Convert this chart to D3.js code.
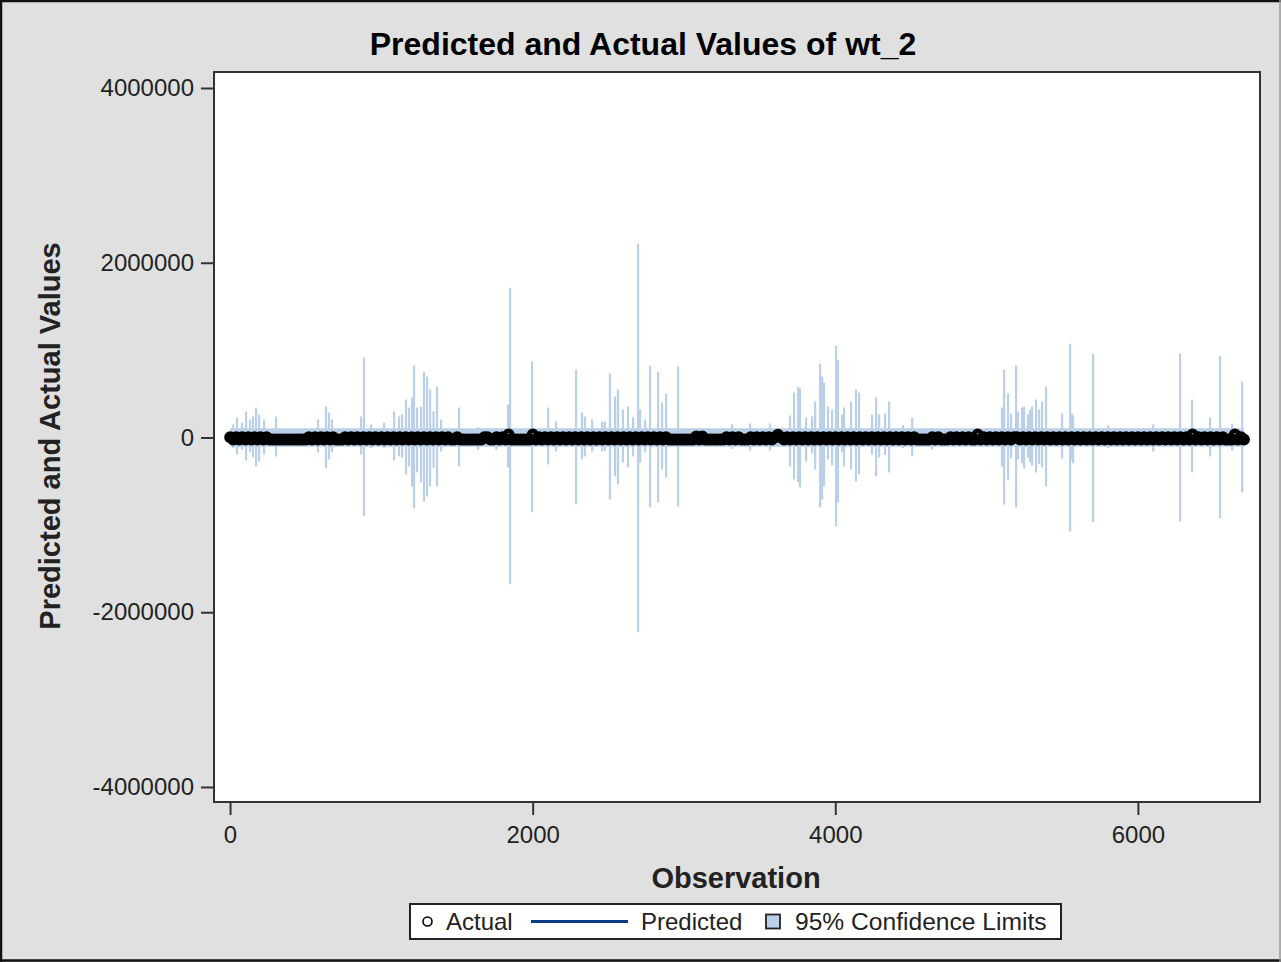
<!DOCTYPE html>
<html><head><meta charset="utf-8">
<script src="https://cdn.jsdelivr.net/npm/d3@7"></script>
<style>
body{margin:0;background:#fff}
svg{display:block}
text{font-family:"Liberation Sans", Arial, sans-serif}
</style>
</head><body>
<svg id="c" width="1281" height="962"></svg>
<script>
// ---------------- data ----------------
const title = "Predicted and Actual Values of wt_2";
const xLabel = "Observation";
const yLabel = "Predicted and Actual Values";
const xTicks = [0, 2000, 4000, 6000];
const yTicks = [-4000000, -2000000, 0, 2000000, 4000000];
const legendLabels = ["Actual", "Predicted", "95% Confidence Limits"];

// actual values (thousands), sampled every 20 observations starting at obs 1 (336 values, rows of 20)
const actualStep = 20, actualFirst = 1;
const actualK = [
  2,-22,2,-22,2,-22,2,-22,2,-22,2,-22,2,-22,-22,-22,-22,-22,-22,-22,
  -22,-22,-22,-22,-22,-22,2,-22,2,-22,2,-22,2,-22,2,-22,-22,-22,2,-22,
  2,-22,2,-22,2,-22,2,-22,2,-22,2,-22,2,-22,2,-22,2,-22,2,-22,
  2,-22,2,-22,2,-22,2,-22,2,-22,2,-22,2,-22,-22,2,-22,-22,-22,-22,
  -22,-22,-22,-22,2,2,-22,-22,2,-22,2,-22,34,-22,-22,-22,-22,-22,-22,-22,
  34,-22,2,-22,2,-22,2,-22,2,-22,2,-22,2,-22,2,-22,2,-22,2,-22,
  2,-22,2,-22,2,-22,2,-22,2,-22,2,-22,2,-22,2,-22,2,-22,2,-22,
  2,-22,2,-22,2,-22,-22,-22,-22,-22,-22,-22,-22,-22,10,-22,10,-22,-22,-22,
  -22,-22,-22,-22,2,-22,2,-22,2,-22,-22,-22,2,-22,2,-22,2,-22,2,-22,
  2,30,2,-22,2,-22,2,-22,2,-22,2,-22,2,-22,2,-22,2,-22,2,-22,
  2,-22,2,-22,2,-22,2,-22,2,-22,2,-22,2,-22,2,-22,2,-22,2,-22,
  2,-22,2,-22,2,-22,2,-22,-22,-22,-22,-22,2,-22,2,-22,-22,-22,2,-22,
  2,-22,2,-22,2,-22,-22,35,-22,2,-22,2,-22,2,-22,2,-22,2,-22,2,
  2,-22,2,-22,2,-22,2,-22,2,-22,2,-22,2,-22,2,-22,2,-22,2,-22,
  2,-22,2,-22,2,-22,2,-22,2,-22,2,-22,2,-22,2,-22,2,-22,2,-22,
  2,-22,2,-22,2,-22,2,-22,2,-22,2,-22,2,-22,2,-22,2,-22,34,-22,
  2,-22,2,-22,2,-22,2,-22,2,-22,-22,-22,34,-22,2,-22
];

// predicted values
const predObs = [1, 1000, 2000, 3000, 4000, 5000, 6000, 6701];
const predicted = [-12000, -12000, -10000, -11000, -10000, -11000, -11000, -12000];

// 95% confidence limits: narrow base band plus spikes
const clBaseObs = [1, 6701];
const clBaseUpper = [105000, 105000];
const clBaseLower = [-105000, -105000];
const spikeObs = [20,46,80,106,132,152,172,192,225,304,582,634,654,674,866,885,932,1018,1084,1117,1137,1163,1183,1203,1216,1236,1262,1282,1302,1322,1345,1368,1395,1514,1640,1760,
  1837,1851,1996,2102,2155,2287,2326,2346,2393,2460,2478,2511,2545,2564,2597,2630,2664,2697,2710,2743,2776,2829,2855,2882,2961,3318,
  3437,3569,3701,3728,3754,3767,3807,3847,3867,3900,3913,3926,3952,3979,4005,4018,4045,4058,4104,4137,4157,4243,4270,4290,4329,4356,4448,4508,4640,
  5102,5116,5142,5162,5195,5208,5235,5248,5274,5287,5301,5327,5347,5367,5393,5499,5552,5565,5572,5704,5803,6101,6279,6358,6477,6543,6623,6689];
const spikeUpper = [150000,228000,170000,297000,206000,240000,343000,263000,206000,240000,206000,354000,286000,206000,240000,914000,149000,171000,297000,240000,263000,434000,343000,457000,823000,343000,354000,754000,697000,549000,300000,583000,206000,343000,120000,110000,
  377000,1714000,869000,343000,183000,777000,286000,240000,206000,180000,183000,731000,469000,549000,320000,354000,229000,2217000,320000,206000,823000,754000,400000,503000,811000,150000,
  160000,160000,251000,514000,583000,560000,229000,240000,411000,846000,697000,629000,354000,320000,1051000,891000,263000,343000,411000,549000,514000,263000,457000,263000,274000,411000,140000,229000,100000,
  343000,777000,503000,274000,823000,297000,343000,354000,263000,320000,354000,434000,320000,411000,583000,274000,1074000,274000,240000,960000,140000,150000,960000,434000,229000,937000,160000,640000];
const spikeLower = [-120000,-194000,-140000,-263000,-171000,-229000,-331000,-274000,-194000,-217000,-171000,-354000,-251000,-171000,-194000,-903000,-120000,-120000,-263000,-217000,-229000,-423000,-331000,-560000,-811000,-400000,-514000,-731000,-674000,-560000,-350000,-560000,-160000,-331000,-140000,-140000,
  -343000,-1680000,-857000,-309000,-160000,-766000,-251000,-217000,-160000,-160000,-150000,-709000,-446000,-537000,-286000,-343000,-217000,-2229000,-286000,-171000,-800000,-743000,-366000,-457000,-789000,-130000,
  -150000,-150000,-331000,-480000,-514000,-571000,-274000,-183000,-366000,-800000,-709000,-560000,-251000,-320000,-1017000,-743000,-171000,-331000,-366000,-503000,-423000,-197000,-446000,-229000,-200000,-400000,-120000,-217000,-140000,
  -331000,-766000,-491000,-240000,-800000,-251000,-297000,-354000,-229000,-286000,-320000,-400000,-300000,-343000,-560000,-240000,-1074000,-260000,-297000,-971000,-120000,-160000,-960000,-400000,-217000,-926000,-150000,-629000];

// ---------------- drawing ----------------
const W = 1281, H = 962;
const plot = {left: 214, right: 1260, top: 72, bottom: 802};
const bandColor = "#bacfe8";
const predColor = "#0c3b85";
const ink = "#222";

const svg = d3.select("#c");
svg.append("rect").attr("x",0).attr("y",0).attr("width",W).attr("height",H).attr("fill","#e0e0e0");
// outer frame
svg.append("line").attr("x1",0).attr("x2",W).attr("y1",1).attr("y2",1).attr("stroke","#111").attr("stroke-width",2.5);
svg.append("line").attr("x1",1).attr("x2",1).attr("y1",0).attr("y2",H).attr("stroke","#111").attr("stroke-width",2.5);
svg.append("line").attr("x1",0).attr("x2",W).attr("y1",960.5).attr("y2",960.5).attr("stroke","#111").attr("stroke-width",2.5);
svg.append("line").attr("x1",1280).attr("x2",1280).attr("y1",0).attr("y2",H).attr("stroke","#9a9a9a").attr("stroke-width",1.5);

const x = d3.scaleLinear().domain([-106, 6807]).range([plot.left, plot.right]);
const y = d3.scaleLinear().domain([-4172000, 4183000]).range([plot.bottom, plot.top]);

svg.append("rect").attr("x",plot.left).attr("y",plot.top)
  .attr("width",plot.right-plot.left).attr("height",plot.bottom-plot.top).attr("fill","#fff");

svg.append("clipPath").attr("id","pc").append("rect")
  .attr("x",plot.left).attr("y",plot.top).attr("width",plot.right-plot.left).attr("height",plot.bottom-plot.top);
const g = svg.append("g").attr("clip-path","url(#pc)");

// confidence band base
const baseData = clBaseObs.map((o,i)=>({o, u: clBaseUpper[i], l: clBaseLower[i]}));
g.append("path").datum(baseData)
  .attr("d", d3.area().x(d=>x(d.o)).y0(d=>y(d.l)).y1(d=>y(d.u)))
  .attr("fill", bandColor);
// spikes
g.selectAll("line.sp").data(spikeObs.map((o,i)=>({o, u: spikeUpper[i], l: spikeLower[i]})))
  .join("line").attr("class","sp")
  .attr("x1",d=>x(d.o)).attr("x2",d=>x(d.o))
  .attr("y1",d=>y(d.u)).attr("y2",d=>y(d.l))
  .attr("stroke", bandColor).attr("stroke-width", 2.2);

// predicted line
g.append("path").datum(predObs.map((o,i)=>({o, v: predicted[i]})))
  .attr("d", d3.line().x(d=>x(d.o)).y(d=>y(d.v)))
  .attr("fill","none").attr("stroke",predColor).attr("stroke-width",2.5);

// actual circles (dense overlap forms a solid band)
const actualData = actualK.map((v,i)=>({o: actualFirst + i*actualStep, v: v*1000}));
g.selectAll("circle.act").data(actualData).join("circle").attr("class","act")
  .attr("cx",d=>x(d.o)).attr("cy",d=>y(d.v)).attr("r",3.6)
  .attr("fill","none").attr("stroke","#000").attr("stroke-width",4.8);

// plot frame
svg.append("rect").attr("x",plot.left).attr("y",plot.top)
  .attr("width",plot.right-plot.left).attr("height",plot.bottom-plot.top)
  .attr("fill","none").attr("stroke","#333").attr("stroke-width",2);

// axes
const yAxis = svg.append("g").attr("transform",`translate(${plot.left},0)`)
  .call(d3.axisLeft(y).tickValues(yTicks).tickSize(13).tickPadding(7).tickFormat(d=>String(d)));
const xAxis = svg.append("g").attr("transform",`translate(0,${plot.bottom})`)
  .call(d3.axisBottom(x).tickValues(xTicks).tickSize(13).tickPadding(11).tickFormat(d=>String(d)));
[yAxis, xAxis].forEach(a=>{
  a.select(".domain").remove();
  a.selectAll(".tick line").attr("stroke","#333").attr("stroke-width",2);
  a.selectAll(".tick text").attr("fill",ink).style("font-size","24px")
    .style("font-family",'"Liberation Sans", Arial, sans-serif');
});

// titles
svg.append("text").attr("x",643).attr("y",55).attr("text-anchor","middle")
  .style("font-size","32px").style("font-weight","bold").attr("fill","#000").text(title);
svg.append("text").attr("x",736).attr("y",888).attr("text-anchor","middle")
  .style("font-size","29px").style("font-weight","bold").attr("fill",ink).text(xLabel);
svg.append("text").attr("transform",`translate(60,436) rotate(-90)`).attr("text-anchor","middle")
  .style("font-size","29px").style("font-weight","bold").attr("fill",ink).text(yLabel);

// legend
const lg = svg.append("g");
lg.append("rect").attr("x",410).attr("y",904).attr("width",651).attr("height",35)
  .attr("fill","#fff").attr("stroke","#222").attr("stroke-width",2);
lg.append("circle").attr("cx",427.5).attr("cy",921.5).attr("r",4.5)
  .attr("fill","none").attr("stroke","#000").attr("stroke-width",1.6);
lg.append("text").attr("x",446).attr("y",930).style("font-size","24px").attr("fill",ink).text(legendLabels[0]);
lg.append("line").attr("x1",531).attr("x2",628).attr("y1",921.5).attr("y2",921.5)
  .attr("stroke",predColor).attr("stroke-width",2.8);
lg.append("text").attr("x",641).attr("y",930).style("font-size","24px").attr("fill",ink).text(legendLabels[1]);
lg.append("rect").attr("x",766).attr("y",914.5).attr("width",14).attr("height",14)
  .attr("fill",bandColor).attr("stroke","#222").attr("stroke-width",1.8);
lg.append("text").attr("x",795).attr("y",930).style("font-size","24.6px").attr("fill",ink).text(legendLabels[2]);
</script>
</body></html>
